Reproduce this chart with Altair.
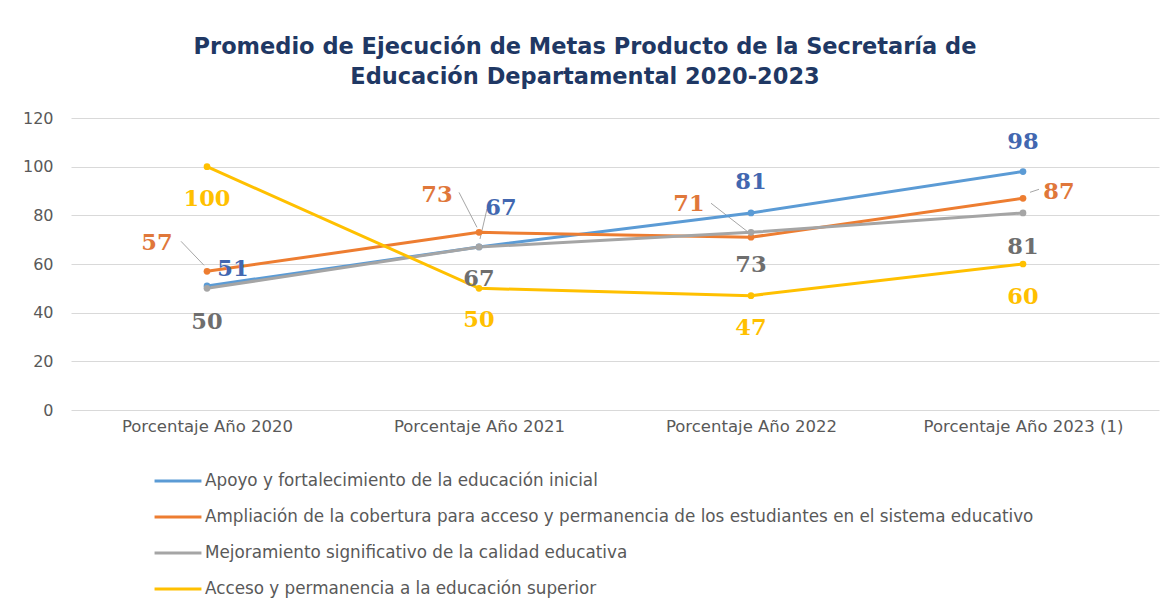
import altair as alt
import pandas as pd

categories = ["Porcentaje  Año 2020", "Porcentaje  Año 2021", "Porcentaje Año 2022", "Porcentaje Año 2023 (1)"]
series_names = [
    "Apoyo y fortalecimiento de la educación inicial",
    "Ampliación de la cobertura para acceso y permanencia de los estudiantes en el sistema educativo",
    "Mejoramiento significativo de la calidad educativa",
    "Acceso y permanencia a la educación superior",
]
apoyo = [51, 67, 81, 98]
ampliacion = [57, 73, 71, 87]
mejoramiento = [50, 67, 73, 81]
acceso = [100, 50, 47, 60]
y_ticks = [0, 20, 40, 60, 80, 100, 120]

line_colors = ["#5B9BD5", "#ED7D31", "#A5A5A5", "#FFC000"]
label_colors = ["#4267B0", "#E0773A", "#6E6E6E", "#FFC000"]

values = [apoyo, ampliacion, mejoramiento, acceso]
rows = []
for s, vals in zip(series_names, values):
    for c, v in zip(categories, vals):
        rows.append({"series": s, "cat": c, "value": v})
df = pd.DataFrame(rows)

# label placement (styling): (series index, category index) -> (dx, dy)
placement = {
    (0, 0): (26, -17), (0, 1): (22, -39), (0, 2): (0, -31), (0, 3): (0, -30),
    (1, 0): (-50, -28), (1, 1): (-42, -37), (1, 2): (-62, -33), (1, 3): (36, -6),
    (2, 0): (0, 34), (2, 1): (0, 32), (2, 2): (0, 33), (2, 3): (0, 34),
    (3, 0): (0, 32), (3, 1): (0, 32), (3, 2): (0, 32), (3, 3): (0, 33),
}
# leader lines (styling): (series index, category index) -> (x1, y1, x2, y2) offsets
leaders = {
    (1, 0): (-26, -30, -3, -6),
    (1, 1): (-20, -40, -2, -5),
    (0, 1): (8, -38, 1, -8),
    (1, 2): (-40, -34, -4, -6),
    (1, 3): (7, -6, 16, -9),
}

x_enc = alt.X("cat:O", sort=categories, scale=alt.Scale(type="point", padding=0.5),
              axis=alt.Axis(title=None, labelAngle=0, labelAlign="center", labelFont="DejaVu Sans",
                            labelFontSize=16.5, labelColor="#595959", labelPadding=16, ticks=False,
                            domain=False, grid=False, labelLimit=400))
y_enc = alt.Y("value:Q", scale=alt.Scale(domain=[0, 120]),
              axis=alt.Axis(title=None, values=y_ticks, labelFont="DejaVu Sans", labelFontSize=16,
                            labelColor="#595959", labelPadding=18, ticks=False, domain=False,
                            gridColor="#D9D9D9", gridWidth=1))

base = alt.Chart(df)

lines = base.mark_line(strokeWidth=3, point=alt.OverlayMarkDef(size=45, filled=True)).encode(
    x=x_enc,
    y=y_enc,
    color=alt.Color("series:N", sort=series_names,
                    scale=alt.Scale(domain=series_names, range=line_colors),
                    legend=alt.Legend(title=None, orient="none", legendX=82, legendY=338,
                                      direction="vertical", labelFont="DejaVu Sans",
                                      labelFontSize=16.8, labelColor="#595959", labelLimit=1100,
                                      symbolType="stroke", symbolSize=2200, symbolStrokeWidth=3,
                                      rowPadding=2, labelOffset=2)),
)

layers = []
for (si, ci), (x1, y1, x2, y2) in leaders.items():
    layers.append(
        base.transform_filter((alt.datum.series == series_names[si]) & (alt.datum.cat == categories[ci]))
        .mark_rule(color="#A6A6A6", strokeWidth=1, xOffset=x1, yOffset=y1, x2Offset=x2, y2Offset=y2)
        .encode(x=alt.X("cat:O", sort=categories), y="value:Q",
                x2="cat:O", y2="value:Q")
    )

layers.append(lines)

for (si, ci), (dx, dy) in placement.items():
    layers.append(
        base.transform_filter((alt.datum.series == series_names[si]) & (alt.datum.cat == categories[ci]))
        .mark_text(font="DejaVu Serif", fontSize=22.5, fontWeight="bold",
                   color=label_colors[si], dx=dx, dy=dy, baseline="middle", align="center")
        .encode(x=alt.X("cat:O", sort=categories), y="value:Q", text="value:Q")
    )

chart = alt.layer(*layers).properties(
    width=1088,
    height=292,
    autosize=alt.AutoSizeParams(type="none"),
    padding={"left": 63, "top": 110, "right": 2, "bottom": 197},
    background="white",
    title=alt.TitleParams(
        text=["Promedio de Ejecución de Metas Producto de la Secretaría de",
              "Educación Departamental 2020-2023"],
        anchor="middle", font="DejaVu Sans", fontSize=22.5, fontWeight="bold",
        color="#1F3864", lineHeight=30, offset=22, dx=-30,
    ),
).configure_view(strokeWidth=0)

chart.save("out.html", embed_options={"renderer": "svg", "actions": False})
